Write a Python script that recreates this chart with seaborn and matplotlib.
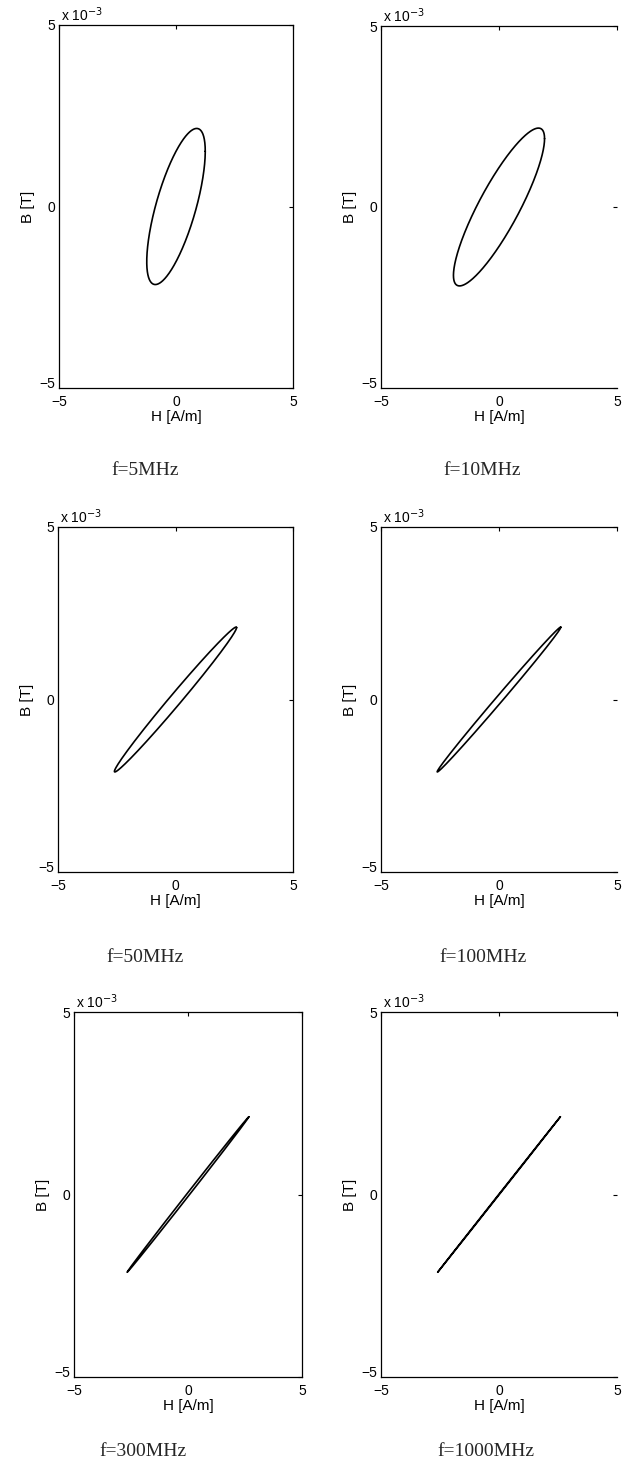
import numpy as np
import pandas as pd
import seaborn as sns
import matplotlib
matplotlib.use("Agg")
import matplotlib.pyplot as plt
from matplotlib.ticker import FixedFormatter

# loop parameters (B lags H by lag_deg)
freq_labels = ["f=5MHz", "f=10MHz", "f=50MHz", "f=100MHz", "f=300MHz", "f=1000MHz"]
H_peak = [1.25, 1.93, 2.60, 2.62, 2.67, 2.60]                      # A/m
B_peak = [2.15e-3, 2.18e-3, 2.10e-3, 2.10e-3, 2.13e-3, 2.13e-3]    # T
lag_deg = [45, 30, 7, 4, 1.5, 0.3]

ticks = [-5, 0, 5]
tick_labels = ["\u22125", "0", "5"]

sns.set_theme(style="white")
plt.rcParams['font.family'] = ['Liberation Sans', 'DejaVu Sans']

W, H = 625, 1461
fig = plt.figure(figsize=(W / 100, H / 100), dpi=100)

# axes boxes in pixels: left, top, right, bottom
boxes = [(59, 25, 293, 388), (381, 26, 617, 388),
         (58, 527, 293, 872), (381, 527, 617, 872),
         (74, 1012, 302, 1377), (381, 1012, 617, 1377)]
# caption centres in pixels
cap_pos = [(145, 470), (482, 470), (145, 957), (483, 957), (143, 1451), (486, 1451)]

t = np.linspace(0, 2 * np.pi, 600)

for i, (l, tp, r, b) in enumerate(boxes):
    ax = fig.add_axes([l / W, 1 - b / H, (r - l) / W, (b - tp) / H])
    phi = np.deg2rad(lag_deg[i])
    df = pd.DataFrame({"H": H_peak[i] * np.cos(t),
                       "B": B_peak[i] * np.cos(t - phi)})
    sns.lineplot(data=df, x="H", y="B", sort=False, estimator=None,
                 color="black", lw=1.2, ax=ax)

    ax.set_xlim(-5, 5)
    ax.set_ylim(-5e-3, 5e-3)
    ax.set_xticks(ticks)
    ax.set_yticks([v * 1e-3 for v in ticks])
    ax.xaxis.set_major_formatter(FixedFormatter(tick_labels))
    ax.yaxis.set_major_formatter(FixedFormatter(tick_labels))

    ax.tick_params(direction="in", length=3, width=0.8, top=True, right=True,
                   labelsize=10, colors="black")
    ax.tick_params(axis="x", pad=5)
    ax.tick_params(axis="y", pad=3)
    # lift the bottom y label a little, as MATLAB does
    ax.get_yticklabels()[0].set_verticalalignment("baseline")
    for s in ax.spines.values():
        s.set_color("black")
        s.set_linewidth(0.9)
    if i % 2 == 1:
        ax.spines["right"].set_visible(False)

    ax.set_xlabel("H [A/m]", fontsize=11, labelpad=1, color="black")
    ax.set_ylabel("B [T]", fontsize=11, labelpad=3, color="black")
    ax.text(0.01, 1.004, r"x 10$^{-3}$", transform=ax.transAxes,
            fontsize=10, ha="left", va="bottom", color="black")

    cx, cy = cap_pos[i]
    fig.text(cx / W, 1 - cy / H, freq_labels[i], ha="center", va="center",
             fontsize=14, family=["Liberation Serif", "DejaVu Serif"])

plt.savefig("out.png", dpi=100)
